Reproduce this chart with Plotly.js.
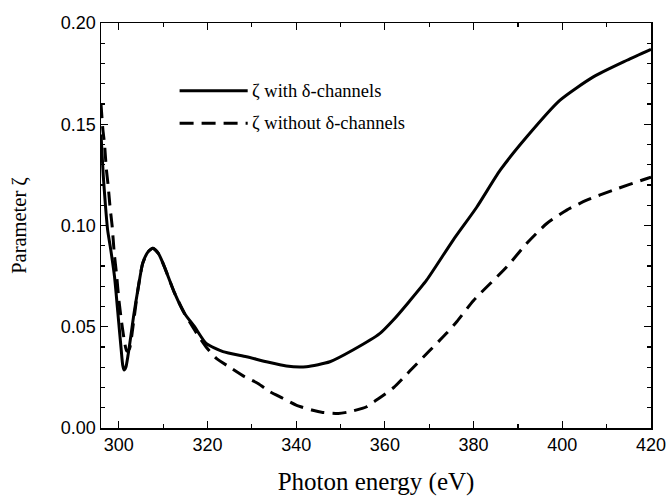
<!DOCTYPE html>
<html>
<head>
<meta charset="utf-8">
<script src="https://cdn.plot.ly/plotly-3.0.1.min.js"></script>
<style>html,body{margin:0;padding:0;background:#fff;}#chart{width:668px;height:496px;}</style>
</head>
<body>
<div id="chart"></div>
<script>
// Photon energy (eV) and parameter zeta
const energyWith = [296.0, 296.5, 297.0, 297.5, 298.2, 299.05, 300.0, 300.5, 300.9, 301.2, 301.6, 302.1, 302.7, 303.4, 304.3, 305.4, 306.6, 307.7, 309.0, 310.3, 312.6, 314.8, 317.1, 319.7, 323.5, 328.8, 333.3, 337.8, 342.3, 347.6, 352.8, 358.9, 361.9, 365.5, 369.4, 375.4, 380.7, 386.0, 392.0, 399.5, 407.0, 414.6, 420.0];
const zetaWith   = [0.145, 0.125, 0.110, 0.0977, 0.088, 0.0747, 0.052, 0.040, 0.031, 0.0286, 0.0300, 0.0360, 0.0450, 0.0560, 0.0680, 0.0813, 0.0870, 0.0888, 0.0860, 0.0796, 0.0666, 0.0567, 0.0500, 0.0418, 0.0377, 0.0352, 0.0327, 0.0306, 0.0303, 0.0327, 0.0385, 0.0467, 0.0533, 0.0625, 0.0730, 0.0928, 0.1090, 0.1273, 0.1438, 0.1619, 0.1734, 0.1816, 0.1870];

const energyWithout = [296.0, 296.4, 296.8, 297.2, 297.6, 298.0, 298.5, 299.0, 299.5, 300.0, 300.6, 301.2, 301.8, 302.4, 303.2, 304.3, 305.4, 306.6, 307.7, 309.0, 310.3, 312.6, 314.8, 317.5, 319.7, 322.0, 325.4, 328.4, 331.4, 334.0, 337.0, 340.0, 343.5, 346.0, 349.5, 352.0, 355.9, 358.1, 362.0, 366.0, 370.0, 374.0, 376.2, 380.0, 387.5, 392.0, 396.5, 401.0, 405.5, 411.5, 419.1, 420.0];
const zetaWithout   = [0.160, 0.148, 0.140, 0.128, 0.120, 0.110, 0.100, 0.086, 0.076, 0.064, 0.053, 0.044, 0.038, 0.039, 0.050, 0.0680, 0.0813, 0.0870, 0.0888, 0.0860, 0.0796, 0.0666, 0.0567, 0.047, 0.040, 0.0344, 0.0295, 0.0253, 0.0220, 0.0180, 0.0147, 0.0113, 0.0089, 0.0077, 0.0072, 0.0080, 0.0105, 0.0138, 0.0200, 0.0290, 0.0380, 0.0470, 0.0525, 0.0630, 0.0796, 0.0912, 0.1010, 0.1076, 0.1125, 0.1175, 0.1232, 0.1238];

const legendWith = "ζ with δ-channels";
const legendWithout = "ζ without δ-channels";
const xTitle = "Photon energy (eV)";
const yTitle = "Parameter ζ";

const serif = 'Liberation Serif, Times New Roman, serif';
const dashPattern = '14px,8px';

const traces = [
  {x: energyWith, y: zetaWith, name: legendWith, type: 'scatter', mode: 'lines', showlegend: false,
   line: {color: '#000', width: 3, shape: 'spline', smoothing: 0.6}},
  {x: energyWithout, y: zetaWithout, name: legendWithout, type: 'scatter', mode: 'lines', showlegend: false,
   line: {color: '#000', width: 3, dash: dashPattern, shape: 'spline', smoothing: 0.6}}
];

const axisCommon = {
  showgrid: false, zeroline: false, showline: true, linecolor: '#000', linewidth: 1.5,
  mirror: 'ticks', ticks: 'inside', ticklen: 7, tickwidth: 1.2, tickcolor: '#000',
  tickfont: {family: 'Liberation Sans, Arial, sans-serif', size: 18, color: '#000'}
};

// legend drawn as keys + labels (paper coordinates)
const legendRows = [
  {label: legendWith, dash: 'solid', y: 0.833},
  {label: legendWithout, dash: dashPattern, y: 0.7527}
];

const layout = {
  width: 668, height: 496,
  paper_bgcolor: '#fff', plot_bgcolor: '#fff',
  margin: {l: 101, r: 17, t: 23, b: 68},
  showlegend: false,
  shapes: legendRows.map(r => ({type: 'line', xref: 'paper', yref: 'paper',
    x0: 0.1429, x1: 0.2667, y0: r.y, y1: r.y, line: {color: '#000', width: 3, dash: r.dash}})),
  annotations: legendRows.map(r => ({xref: 'paper', yref: 'paper', x: 0.2700, y: r.y,
    xanchor: 'left', yanchor: 'middle', showarrow: false, text: r.label,
    font: {family: serif, size: 18.5, color: '#000'}})),
  xaxis: Object.assign({}, axisCommon, {
    range: [296, 420], tick0: 300, dtick: 20,
    minor: {dtick: 10, ticks: 'inside', ticklen: 4, tickcolor: '#000'},
    title: {text: xTitle, standoff: 21, font: {family: serif, size: 25, color: '#000'}}
  }),
  yaxis: Object.assign({}, axisCommon, {
    range: [0, 0.2], tick0: 0, dtick: 0.05, tickformat: '.2f',
    minor: {dtick: 0.01, ticks: 'inside', ticklen: 4, tickcolor: '#000'},
    title: {text: yTitle, standoff: 28, font: {family: serif, size: 20.5, color: '#000'}}
  })
};

Plotly.newPlot('chart', traces, layout, {displayModeBar: false, staticPlot: true});
</script>
</body>
</html>
